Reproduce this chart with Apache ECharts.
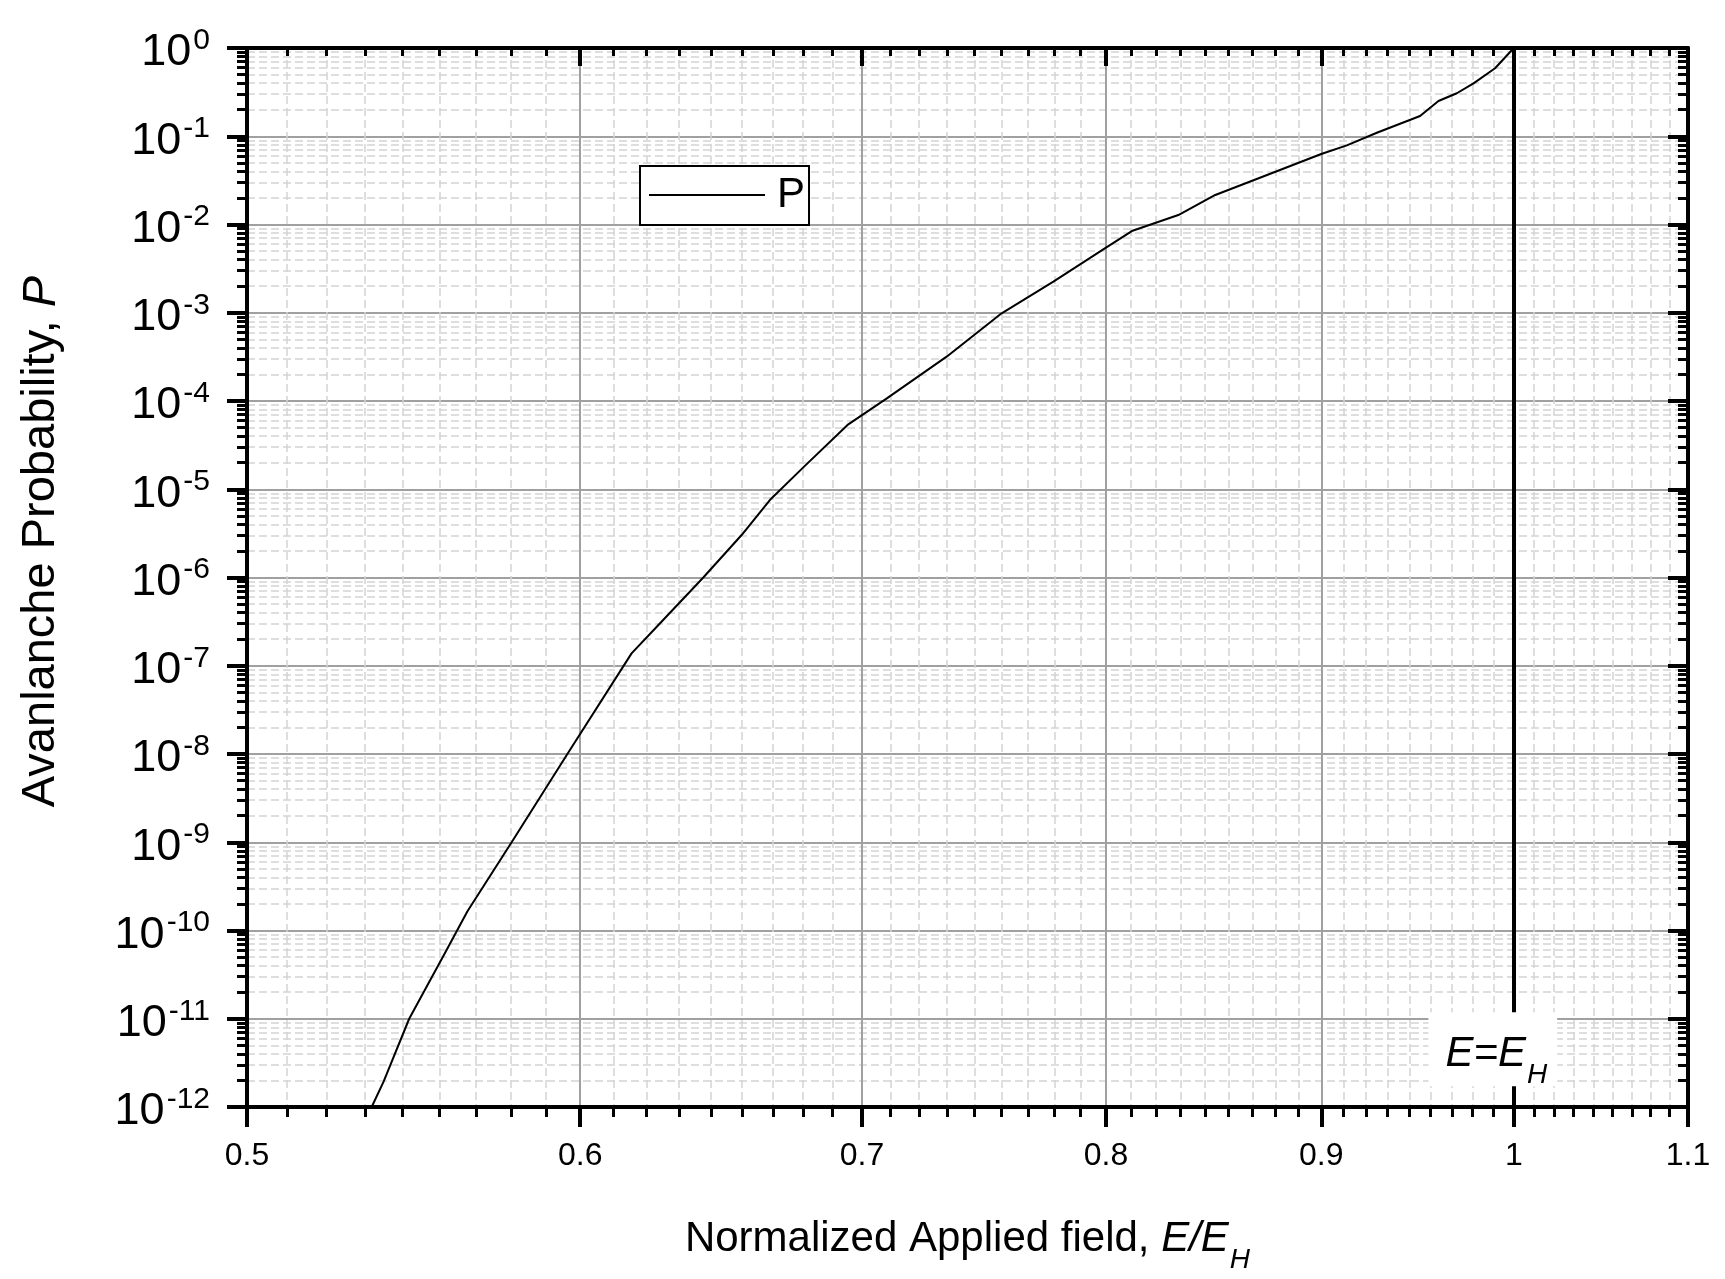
<!DOCTYPE html>
<html>
<head>
<meta charset="utf-8">
<title>Avalanche probability</title>
<script src="https://cdn.jsdelivr.net/npm/echarts@6/dist/echarts.min.js"></script>
<style>
html, body { margin: 0; padding: 0; background: #fff; }
#chart { width: 1725px; height: 1279px; }
</style>
</head>
<body>
<div id="chart"></div>
<script>
// values
const fieldRatio = [0.5353, 0.5388, 0.5464, 0.5577, 0.5641, 0.5779, 0.5958, 0.6171, 0.6268, 0.6418,
    0.6554, 0.6656, 0.6779, 0.6948, 0.7096, 0.7332, 0.7556, 0.7773, 0.8, 0.8114,
    0.8323, 0.8493, 0.8737, 0.9, 0.9127, 0.9278, 0.95, 0.9596, 0.9693, 0.9782, 0.9898, 1.0];
const probability = [1e-12, 1.94e-12, 1e-11, 6.0e-11, 1.65e-10, 1e-9, 1e-8, 1.38e-7, 3.03e-7, 1e-6,
    3.03e-6, 7.55e-6, 1.77e-5, 5.44e-5, 1.07e-4, 3.18e-4, 9.86e-4, 2.25e-3, 5.46e-3, 8.43e-3,
    1.28e-2, 2.16e-2, 3.64e-2, 6.29e-2, 7.89e-2, 0.1096, 0.1696, 0.2508, 0.307, 0.398, 0.589, 1.0];

const xTicks = [0.5, 0.6, 0.7, 0.8, 0.9, 1.0, 1.1];
const yExponents = [-12, -11, -10, -9, -8, -7, -6, -5, -4, -3, -2, -1, 0];
const boundaryField = 1.0;

const FONT = '"Liberation Sans", Arial, sans-serif';
const BLACK = '#000';

const yTicks = yExponents.map(n => Number('1e' + n));
let yMinor = [];
yExponents.slice(0, -1).forEach(function(n) {
    for (let k = 2; k <= 9; k++) yMinor.push(Number(k + 'e' + n));
});
let xMinor = [];
for (let i = 0; i < xTicks.length - 1; i++) {
    for (let k = 1; k <= 8; k++) xMinor.push(xTicks[i] + (xTicks[i + 1] - xTicks[i]) * k / 9);
}

function blank(extra) {
    return Object.assign({
        type: 'log', logBase: 10, gridIndex: 0,
        axisLine: {show: false},
        axisTick: {show: false},
        axisLabel: {show: false},
        splitLine: {show: false}
    }, extra);
}

const thick = {show: true, onZero: false, lineStyle: {color: BLACK, width: 4}};
const minorGrid = {show: true, lineStyle: {color: '#d4d4d4', width: 1.5, type: [8, 4]}};
const majorGrid = {show: true, lineStyle: {color: '#a0a0a0', width: 2}};

const xBase = {min: 0.5, max: 1.1};
const yBase = {min: 1e-12, max: 1};

const xAxes = [
    // bottom minor
    blank(Object.assign({position: 'bottom',
        axisTick: {show: true, customValues: xMinor, length: 10, lineStyle: {color: BLACK, width: 3}},
        splitLine: minorGrid}, xBase)),
    // bottom major
    blank(Object.assign({position: 'bottom',
        axisLine: thick,
        axisTick: {show: true, customValues: xTicks, length: 20, lineStyle: {color: BLACK, width: 4}},
        axisLabel: {show: true, customValues: xTicks, margin: 33, fontSize: 32, color: BLACK,
            fontFamily: FONT, showMinLabel: true, showMaxLabel: true,
            formatter: v => String(parseFloat(v.toFixed(2)))},
        splitLine: majorGrid,
        name: '{n|Normalized Applied field, }{i|E/E}{s|H}',
        nameLocation: 'middle',
        nameGap: 111,
        nameTextStyle: {
            color: BLACK,
            rich: {
                n: {fontSize: 42, lineHeight: 42, fontFamily: FONT, color: BLACK, verticalAlign: 'top'},
                i: {fontSize: 42, lineHeight: 42, fontFamily: FONT, color: BLACK, fontStyle: 'italic', verticalAlign: 'top'},
                s: {fontSize: 28, lineHeight: 28, fontFamily: FONT, color: BLACK, fontStyle: 'italic', verticalAlign: 'top', padding: [28, 0, 0, 1]}
            }
        }}, xBase)),
    // top major
    blank(Object.assign({position: 'top',
        axisLine: thick,
        axisTick: {show: true, inside: true, customValues: xTicks, length: 18, lineStyle: {color: BLACK, width: 4}}}, xBase)),
    // top minor
    blank(Object.assign({position: 'top',
        axisTick: {show: true, inside: true, customValues: xMinor, length: 8, lineStyle: {color: BLACK, width: 3}}}, xBase))
];

const yAxes = [
    blank(Object.assign({position: 'left',
        axisTick: {show: true, customValues: yMinor, length: 10, lineStyle: {color: BLACK, width: 3}},
        splitLine: minorGrid}, yBase)),
    blank(Object.assign({position: 'left',
        axisLine: thick,
        axisTick: {show: true, customValues: yTicks, length: 20, lineStyle: {color: BLACK, width: 4}},
        axisLabel: {show: true, customValues: yTicks, margin: 37, showMinLabel: true, showMaxLabel: true,
            formatter: v => '{b|10}{s|' + Math.round(Math.log10(v)) + '}',
            rich: {
                b: {fontSize: 45, lineHeight: 45, fontFamily: FONT, color: BLACK, padding: [10, 0, 0, 0]},
                s: {fontSize: 30, lineHeight: 30, fontFamily: FONT, color: BLACK, verticalAlign: 'top', padding: [0, 0, 0, 2]}
            }},
        splitLine: majorGrid,
        name: '{n|Avanlanche Probability, }{i|P}',
        nameLocation: 'middle',
        nameGap: 182,
        nameTextStyle: {
            color: BLACK,
            padding: [0, 0, 0, 72],
            rich: {
                n: {fontSize: 47, fontFamily: FONT, color: BLACK},
                i: {fontSize: 47, fontFamily: FONT, color: BLACK, fontStyle: 'italic'}
            }
        }}, yBase)),
    blank(Object.assign({position: 'right',
        axisLine: thick,
        axisTick: {show: true, inside: true, customValues: yTicks, length: 20, lineStyle: {color: BLACK, width: 4}}}, yBase)),
    blank(Object.assign({position: 'right',
        axisTick: {show: true, inside: true, customValues: yMinor, length: 10, lineStyle: {color: BLACK, width: 3}}}, yBase))
];

const chart = echarts.init(document.getElementById('chart'));
chart.setOption({
    backgroundColor: '#fff',
    animation: false,
    textStyle: {fontFamily: FONT},
    grid: {left: 247, right: 37, top: 48, bottom: 172, containLabel: false},
    legend: {
        data: ['P'],
        left: 640,
        top: 166,
        icon: 'rect',
        itemWidth: 116,
        itemHeight: 2,
        selectedMode: false,
        backgroundColor: '#fff',
        borderColor: BLACK,
        borderWidth: 2,
        borderRadius: 0,
        padding: [7, 4, 8, 9],
        textStyle: {fontSize: 42, lineHeight: 44, color: BLACK, fontFamily: FONT, padding: [0, 0, 0, 7]}
    },
    xAxis: xAxes,
    yAxis: yAxes,
    series: [{
        name: 'P',
        type: 'line',
        xAxisIndex: 1,
        yAxisIndex: 1,
        data: fieldRatio.map((x, i) => [x, probability[i]]),
        showSymbol: false,
        symbol: 'none',
        color: BLACK,
        lineStyle: {color: BLACK, width: 2},
        markLine: {
            silent: true,
            symbol: ['none', 'none'],
            label: {show: false},
            lineStyle: {color: BLACK, width: 4, type: 'solid'},
            data: [{xAxis: boundaryField}]
        },
        markPoint: {
            z: 10,
            silent: true,
            symbol: 'circle',
            symbolSize: 1,
            itemStyle: {color: 'rgba(0,0,0,0)'},
            label: {
                show: true,
                position: 'inside',
                offset: [-21, 0],
                formatter: '{i|E=E}{s|H}',
                backgroundColor: '#fff',
                padding: [21, 10, 11, 17],
                rich: {
                    i: {fontSize: 42, lineHeight: 42, fontFamily: FONT, color: BLACK, fontStyle: 'italic', verticalAlign: 'top'},
                    s: {fontSize: 28, lineHeight: 28, fontFamily: FONT, color: BLACK, fontStyle: 'italic', verticalAlign: 'top', padding: [28, 0, 0, 1]}
                }
            },
            data: [{coord: [boundaryField, 4.5e-12]}]
        }
    }]
});
</script>
</body>
</html>
